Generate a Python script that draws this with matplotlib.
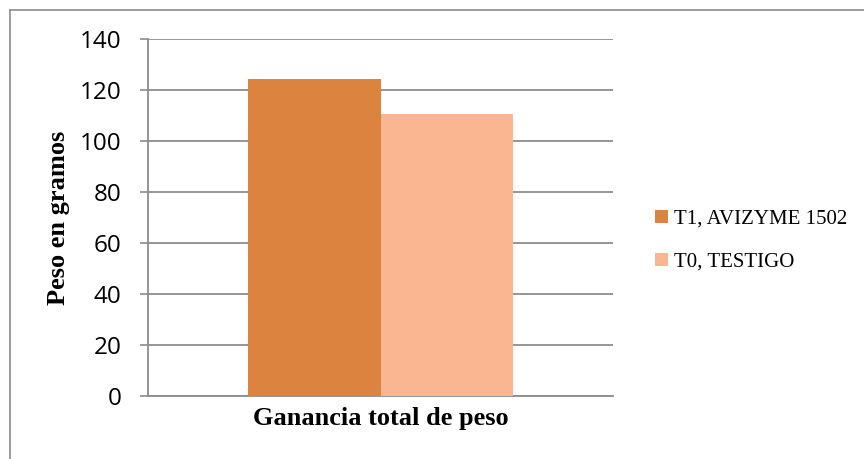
import matplotlib.pyplot as plt
import numpy as np
from matplotlib.lines import Line2D

category = ["Ganancia total de peso"]
series_names = ["T1, AVIZYME 1502", "T0, TESTIGO"]
series_values = [124.3, 110.6]
series_colors = ["#DC843F", "#F9B691"]
y_ticks = [0, 20, 40, 60, 80, 100, 120, 140]

fig = plt.figure(figsize=(8.64, 4.59), dpi=100)
ax = fig.add_axes([148 / 864, 1 - 396 / 459, 465 / 864, 357 / 459])

# chart frame (only top and left edges fall inside the image)
fig.add_artist(Line2D([10 / 864, 1.0], [1 - 10 / 459, 1 - 10 / 459],
                      transform=fig.transFigure, color="#8c8c8c", lw=1.2))
fig.add_artist(Line2D([10 / 864, 10 / 864], [0.0, 1 - 10 / 459],
                      transform=fig.transFigure, color="#8c8c8c", lw=1.2))

x = np.arange(len(category))
width = 0.285
for i, (name, vals, col) in enumerate(zip(series_names, series_values, series_colors)):
    ax.bar(x + (i - 0.5) * width, [vals], width, color=col, label=name, zorder=3)

ax.set_xlim(-0.5, 0.5)
ax.set_ylim(0, 140)
ax.set_yticks(y_ticks)
ax.set_yticklabels([str(t) for t in y_ticks], fontsize=17.5, family="Open Sans")
ax.yaxis.grid(True, color="#8c8c8c", lw=1.3, zorder=0)
ax.tick_params(axis="y", length=6, color="#8c8c8c", width=1.2, pad=13)
ax.tick_params(axis="x", length=0, pad=8)
ax.set_xticks([0])
ax.set_xticklabels(category, fontsize=19, fontweight="bold", family="Liberation Serif")
for s in ["top", "right"]:
    ax.spines[s].set_visible(False)
ax.spines["left"].set_color("#8c8c8c")
ax.spines["left"].set_linewidth(1.3)
ax.spines["bottom"].set_color("#8c8c8c")
ax.spines["bottom"].set_linewidth(1.3)
ax.spines["bottom"].set_bounds(-0.5, 0.5)

ax.set_ylabel("Peso en gramos", fontsize=19, fontweight="bold", family="Liberation Serif", labelpad=7)

leg = ax.legend(loc="center left", bbox_to_anchor=(1.05, 0.435), frameon=False,
                prop={"family": "Liberation Serif", "size": 15},
                handlelength=0.6, handleheight=0.6, handletextpad=0.3, labelspacing=1.15)

fig.savefig("out.png", dpi=100)
